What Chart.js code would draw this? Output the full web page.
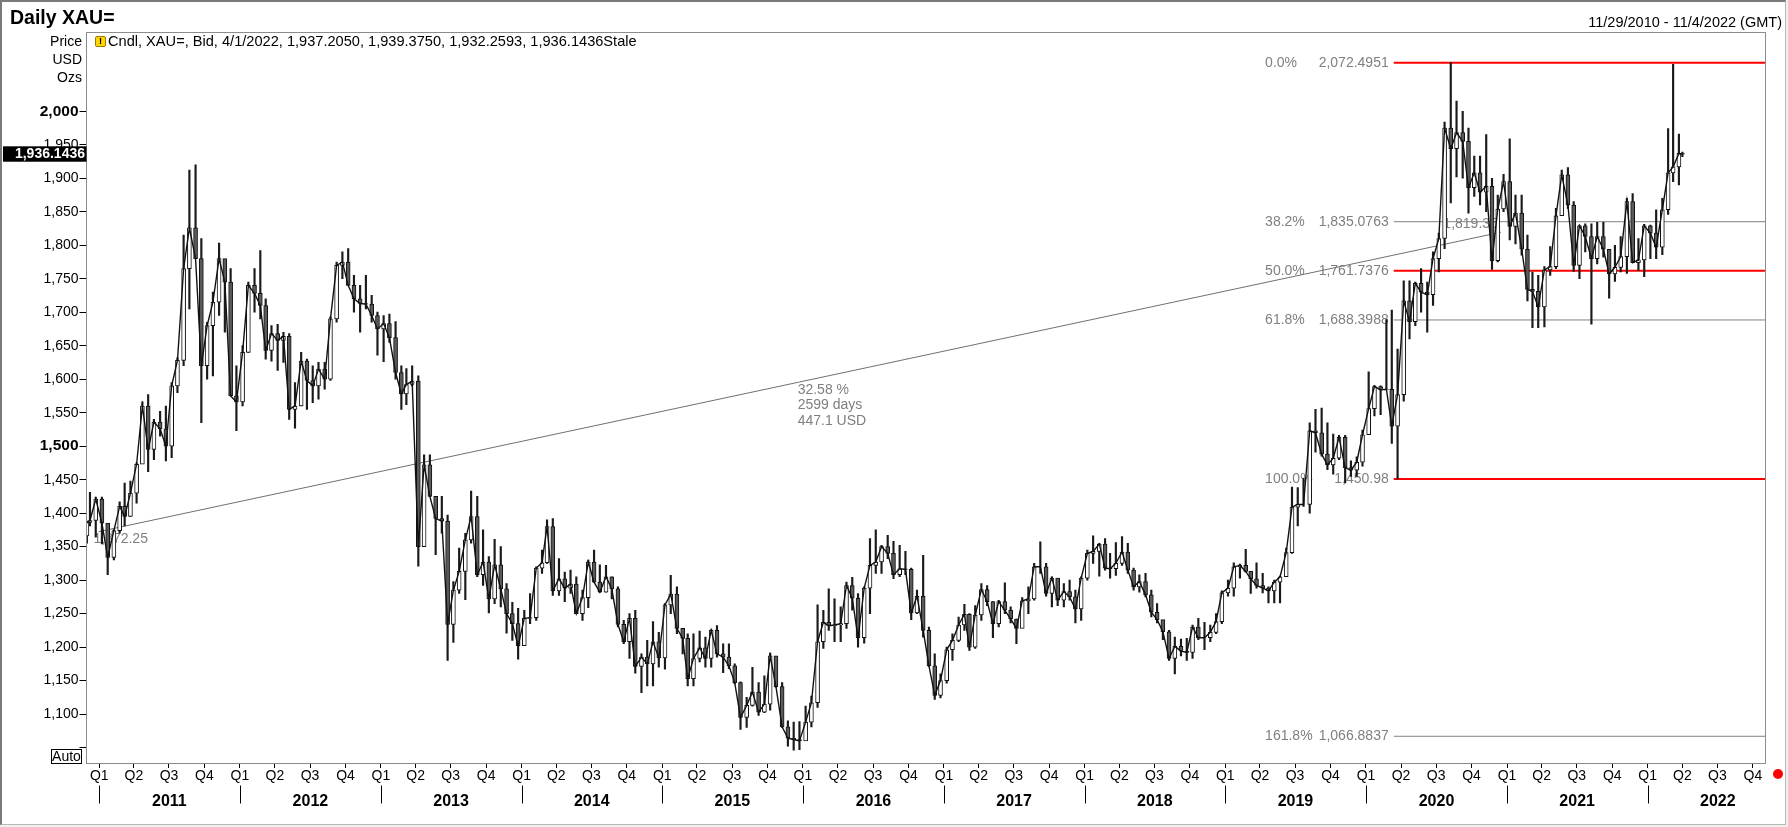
<!DOCTYPE html>
<html>
<head>
<meta charset="utf-8">
<script src="https://cdn.jsdelivr.net/npm/chart.js@4.4.1/dist/chart.umd.min.js"></script>
<style>
html, body { margin: 0; padding: 0; width: 1788px; height: 827px; overflow: hidden; background: #f0f0f0;
  font-family: "Liberation Sans", Arial, sans-serif; }
#frame { position: absolute; left: 0; top: 0; width: 1783px; height: 822px; background: #fff;
  border-left: 2px solid #7a7a7a; border-top: 2px solid #7a7a7a; border-right: 1px solid #b8b8b8; border-bottom: 1px solid #b8b8b8; }
canvas { position: absolute; left: 0; top: 0; }
.t { position: absolute; white-space: nowrap; color: #000; }
</style>
</head>
<body>
<div id="frame"></div>
<canvas id="chart" width="1788" height="827"></canvas>
<div class="t" style="left:10px;top:8px;font-size:19.5px;line-height:19.5px;font-weight:bold;">Daily XAU=</div>
<div class="t" style="right:6px;top:15px;font-size:14.5px;line-height:14.5px;">11/29/2010 - 11/4/2022 (GMT)</div>
<div class="t" style="left:0;top:32px;width:82px;text-align:right;font-size:14px;line-height:18px;">Price<br>USD<br>Ozs</div>
<div class="t" style="left:95px;top:35.5px;width:9px;height:9px;border:1px solid #9b7b00;background:#ffd400;border-radius:2px;font-size:9px;line-height:9px;font-weight:bold;text-align:center;">!</div>
<div class="t" style="left:108px;top:33.5px;font-size:14.6px;line-height:14.6px;">Cndl, XAU=, Bid, 4/1/2022, 1,937.2050, 1,939.3750, 1,932.2593, 1,936.1436Stale</div>
<div class="t" style="left:51px;top:748.5px;width:29px;height:13px;border:1px solid #000;background:#fff;font-size:14px;line-height:13px;text-align:center;">Auto</div>
<div class="t" style="left:1773px;top:769px;width:10px;height:10px;border-radius:50%;background:#f00;"></div>
<script>
// half-month candles: date (mid of period), open, low, high, close
const dates = [
  '2010-11-30','2010-12-08','2010-12-23',
  '2011-01-08','2011-01-23','2011-02-08','2011-02-23','2011-03-08','2011-03-23','2011-04-08','2011-04-23','2011-05-08','2011-05-23','2011-06-08','2011-06-23',
  '2011-07-08','2011-07-23','2011-08-08','2011-08-23','2011-09-08','2011-09-23','2011-10-08','2011-10-23','2011-11-08','2011-11-23','2011-12-08','2011-12-23',
  '2012-01-08','2012-01-23','2012-02-08','2012-02-23','2012-03-08','2012-03-23','2012-04-08','2012-04-23','2012-05-08','2012-05-23','2012-06-08','2012-06-23',
  '2012-07-08','2012-07-23','2012-08-08','2012-08-23','2012-09-08','2012-09-23','2012-10-08','2012-10-23','2012-11-08','2012-11-23','2012-12-08','2012-12-23',
  '2013-01-08','2013-01-23','2013-02-08','2013-02-23','2013-03-08','2013-03-23','2013-04-08','2013-04-23','2013-05-08','2013-05-23','2013-06-08','2013-06-23',
  '2013-07-08','2013-07-23','2013-08-08','2013-08-23','2013-09-08','2013-09-23','2013-10-08','2013-10-23','2013-11-08','2013-11-23','2013-12-08','2013-12-23',
  '2014-01-08','2014-01-23','2014-02-08','2014-02-23','2014-03-08','2014-03-23','2014-04-08','2014-04-23','2014-05-08','2014-05-23','2014-06-08','2014-06-23',
  '2014-07-08','2014-07-23','2014-08-08','2014-08-23','2014-09-08','2014-09-23','2014-10-08','2014-10-23','2014-11-08','2014-11-23','2014-12-08','2014-12-23',
  '2015-01-08','2015-01-23','2015-02-08','2015-02-23','2015-03-08','2015-03-23','2015-04-08','2015-04-23','2015-05-08','2015-05-23','2015-06-08','2015-06-23',
  '2015-07-08','2015-07-23','2015-08-08','2015-08-23','2015-09-08','2015-09-23','2015-10-08','2015-10-23','2015-11-08','2015-11-23','2015-12-08','2015-12-23',
  '2016-01-08','2016-01-23','2016-02-08','2016-02-23','2016-03-08','2016-03-23','2016-04-08','2016-04-23','2016-05-08','2016-05-23','2016-06-08','2016-06-23',
  '2016-07-08','2016-07-23','2016-08-08','2016-08-23','2016-09-08','2016-09-23','2016-10-08','2016-10-23','2016-11-08','2016-11-23','2016-12-08','2016-12-23',
  '2017-01-08','2017-01-23','2017-02-08','2017-02-23','2017-03-08','2017-03-23','2017-04-08','2017-04-23','2017-05-08','2017-05-23','2017-06-08','2017-06-23',
  '2017-07-08','2017-07-23','2017-08-08','2017-08-23','2017-09-08','2017-09-23','2017-10-08','2017-10-23','2017-11-08','2017-11-23','2017-12-08','2017-12-23',
  '2018-01-08','2018-01-23','2018-02-08','2018-02-23','2018-03-08','2018-03-23','2018-04-08','2018-04-23','2018-05-08','2018-05-23','2018-06-08','2018-06-23',
  '2018-07-08','2018-07-23','2018-08-08','2018-08-23','2018-09-08','2018-09-23','2018-10-08','2018-10-23','2018-11-08','2018-11-23','2018-12-08','2018-12-23',
  '2019-01-08','2019-01-23','2019-02-08','2019-02-23','2019-03-08','2019-03-23','2019-04-08','2019-04-23','2019-05-08','2019-05-23','2019-06-08','2019-06-23',
  '2019-07-08','2019-07-23','2019-08-08','2019-08-23','2019-09-08','2019-09-23','2019-10-08','2019-10-23','2019-11-08','2019-11-23','2019-12-08','2019-12-23',
  '2020-01-08','2020-01-23','2020-02-08','2020-02-23','2020-03-08','2020-03-23','2020-04-08','2020-04-23','2020-05-08','2020-05-23','2020-06-08','2020-06-23',
  '2020-07-08','2020-07-23','2020-08-08','2020-08-23','2020-09-08','2020-09-23','2020-10-08','2020-10-23','2020-11-08','2020-11-23','2020-12-08','2020-12-23',
  '2021-01-08','2021-01-23','2021-02-08','2021-02-23','2021-03-08','2021-03-23','2021-04-08','2021-04-23','2021-05-08','2021-05-23','2021-06-08','2021-06-23',
  '2021-07-08','2021-07-23','2021-08-08','2021-08-23','2021-09-08','2021-09-23','2021-10-08','2021-10-23','2021-11-08','2021-11-23','2021-12-08','2021-12-23',
  '2022-01-08','2022-01-23','2022-02-08','2022-02-23','2022-03-08','2022-03-23','2022-04-01'
];
const lows = [
  1355,1381,1364,
  1354,1308,1330,1370,1381,1395,1415,1480,1462,1480,1515,1478, 1483,1580,1620,1705,1780,1535,1600,1605,1695,1670,1575,1523,
  1560,1640,1700,1690,1630,1627,1613,1625,1540,1527,1560,1555, 1565,1570,1585,1598,1685,1750,1740,1700,1670,1705,1685,1636,
  1626,1655,1600,1555,1562,1590,1321,1380,1425,1338,1370,1180, 1207,1280,1271,1355,1305,1292,1251,1265,1260,1221,1210,1182,
  1202,1235,1240,1310,1325,1277,1277,1268,1280,1250,1240,1259, 1297,1282,1282,1272,1230,1205,1183,1161,1132,1142,1142,1170,
  1167,1250,1220,1190,1142,1142,1178,1170,1170,1185,1162,1168, 1145,1077,1080,1112,1098,1102,1106,1140,1080,1052,1046,1047,
  1062,1081,1110,1198,1225,1208,1208,1228,1255,1200,1206,1250, 1310,1310,1332,1302,1305,1308,1241,1250,1215,1171,1122,1124,
  1146,1180,1208,1225,1195,1198,1240,1262,1214,1230,1250,1236, 1205,1230,1250,1270,1310,1276,1260,1262,1260,1270,1236,1240,
  1300,1325,1306,1315,1303,1307,1322,1310,1285,1282,1275,1245, 1236,1211,1180,1160,1187,1180,1183,1211,1196,1208,1220,1235,
  1276,1276,1303,1312,1280,1288,1281,1266,1266,1266,1305,1340, 1381,1410,1400,1491,1485,1465,1458,1480,1445,1455,1455,1470,
  1517,1545,1547,1585,1504,1451,1567,1660,1680,1700,1670,1710, 1760,1795,1863,1902,1900,1848,1873,1860,1850,1764,1775,1850,
  1808,1802,1785,1717,1677,1677,1678,1755,1765,1845,1855,1761, 1750,1790,1682,1772,1782,1721,1746,1760,1758,1774,1762,1753,
  1780,1780,1786,1846,1895,1890,1932
];
const highs = [
  1388,1431,1424,
  1424,1378,1375,1417,1445,1448,1475,1566,1577,1540,1552,1560, 1595,1632,1815,1912,1920,1810,1685,1730,1803,1760,1765,1620,
  1650,1745,1765,1792,1720,1680,1682,1670,1668,1595,1640,1630, 1620,1625,1625,1693,1775,1790,1795,1755,1740,1755,1725,1700,
  1695,1697,1686,1620,1616,1620,1605,1487,1487,1420,1425,1397, 1298,1348,1370,1433,1425,1375,1335,1361,1350,1295,1267,1258,
  1255,1280,1320,1345,1390,1392,1332,1312,1315,1305,1285,1330, 1345,1323,1322,1305,1290,1240,1250,1255,1190,1210,1238,1222,
  1265,1307,1290,1225,1220,1220,1224,1215,1226,1232,1205,1205, 1175,1148,1125,1170,1147,1157,1191,1180,1147,1090,1088,1089,
  1112,1127,1263,1255,1287,1272,1260,1297,1304,1280,1290,1362, 1375,1352,1367,1358,1352,1343,1318,1285,1337,1230,1190,1160,
  1200,1220,1245,1264,1250,1262,1295,1292,1268,1270,1296,1260, 1242,1274,1290,1325,1357,1325,1305,1298,1295,1300,1285,1305,
  1345,1366,1355,1362,1340,1356,1365,1355,1318,1308,1310,1285, 1265,1240,1225,1215,1212,1213,1233,1243,1237,1233,1250,1284,
  1300,1326,1324,1346,1310,1326,1310,1290,1300,1306,1348,1439, 1438,1452,1535,1555,1557,1535,1518,1516,1516,1478,1484,1524,
  1611,1591,1590,1689,1703,1645,1747,1747,1745,1765,1745,1790, 1818,1984,2072.5,2015,2000,1975,1933,1933,1965,1900,1875,1906,
  1959,1875,1875,1815,1760,1755,1768,1798,1855,1912,1916,1865, 1830,1832,1832,1834,1834,1787,1800,1813,1870,1877,1810,1831,
  1830,1853,1870,1974,2070,1966,1939
];
const closes = [
  1386,1389,1421,
  1385,1334,1374,1410,1395,1430,1473,1560,1495,1536,1526,1500, 1590,1628,1765,1826,1780,1620,1680,1715,1780,1745,1575,1566,
  1640,1740,1728,1710,1643,1668,1658,1664,1555,1560,1627,1598, 1590,1615,1600,1690,1770,1775,1740,1720,1713,1712,1695,1675,
  1683,1662,1610,1578,1592,1597,1350,1472,1425,1392,1388,1234, 1285,1313,1360,1395,1308,1327,1272,1323,1287,1250,1235,1202,
  1243,1244,1318,1326,1380,1284,1302,1288,1294,1250,1274,1327, 1297,1282,1305,1287,1234,1208,1243,1171,1185,1175,1208,1184,
  1263,1279,1228,1213,1153,1183,1199,1183,1225,1190,1185,1172, 1147,1095,1113,1133,1103,1115,1187,1141,1081,1064,1062,1060,
  1088,1117,1208,1237,1232,1233,1235,1292,1273,1214,1288,1322, 1327,1350,1340,1308,1317,1316,1251,1276,1225,1172,1128,1150,
  1196,1210,1233,1249,1200,1248,1286,1268,1235,1268,1255,1242, 1228,1269,1272,1320,1320,1280,1303,1270,1283,1275,1257,1303,
  1340,1343,1354,1318,1317,1325,1342,1315,1290,1298,1278,1252, 1241,1223,1183,1201,1194,1192,1230,1214,1214,1222,1238,1281,
  1288,1320,1322,1313,1302,1292,1288,1284,1297,1305,1341,1409, 1413,1413,1523,1520,1488,1472,1482,1513,1468,1464,1476,1517,
  1556,1589,1584,1585,1530,1577,1717,1686,1743,1730,1726,1780, 1810,1975,1944,1968,1955,1886,1908,1879,1888,1777,1854,1895,
  1828,1848,1794,1734,1731,1708,1763,1768,1844,1905,1860,1770, 1829,1813,1780,1813,1794,1757,1767,1783,1865,1774,1778,1829,
  1818,1797,1853,1908,1917,1937,1936
];
const firstOpen = 1366;
const lastClose = 1936.1436;

// fibonacci retracement drawn from the March 2020 low
const fibStart = '2020-03-13';
const fibPct = [0, 38.2, 50, 61.8, 100, 161.8];
const fibVal = [2072.4951, 1835.0763, 1761.7376, 1688.3988, 1450.98, 1066.8837];
const fibRed = [true, false, true, false, true, false];

// measuring line
const trendDates = ['2010-12-30', '2020-12-16'];
const trendVals = [1372.25, 1819.35];
const trendDays = 2599;

const yTicks = [1050,1100,1150,1200,1250,1300,1350,1400,1450,1500,1550,1600,1650,1700,1750,1800,1850,1900,1950,2000];
const hiddenTick = 1050;  // sits under the "Auto" box
const yearLabels = ['2011','2012','2013','2014','2015','2016','2017','2018','2019','2020','2021','2022'];
const quarterNames = ['Q1','Q2','Q3','Q4'];

const t = s => Date.parse(s + 'T00:00:00Z');
const xMin = t('2010-11-29'), xMax = t('2022-11-04');
const yMin = 1025.5, yMax = 2118.3;
const family = '"Liberation Sans", Arial, sans-serif';

const quarterTicks = [];
yearLabels.forEach(y => ['01','04','07','10'].forEach(m => quarterTicks.push(t(y + '-' + m + '-01'))));
const yearStarts = yearLabels.map(y => t(y + '-01-01'));
const yearMids = yearLabels.map(y => t(y + '-07-02'));

// each candle opens where the previous one closed
const opens = closes.map((c, i) => i === 0 ? firstOpen : closes[i - 1]);

Chart.defaults.font.family = family;

const fibSets = fibVal.map((v, i) => ({
  type: 'line',
  data: [{x: t(fibStart), y: v}, {x: xMax, y: v}],
  borderColor: fibRed[i] ? '#ff0000' : '#808080',
  borderWidth: fibRed[i] ? 2 : 1,
  pointRadius: 0,
  order: 5
}));

const overlay = {
  id: 'overlay',
  beforeDatasetsDraw(chart) {
    const {ctx, scales: {x, y}} = chart;
    ctx.save();
    ctx.font = '14px ' + family;
    ctx.fillStyle = '#7f7f7f';
    ctx.textBaseline = 'middle';
    const x0 = x.getPixelForValue(t(fibStart));
    fibPct.forEach((p, i) => {
      const yy = y.getPixelForValue(fibVal[i]);
      ctx.textAlign = 'left';
      ctx.fillText(p.toFixed(1) + '%', x0 - 128.6, yy);
      ctx.textAlign = 'right';
      ctx.fillText(fibVal[i].toLocaleString('en-US', {maximumFractionDigits: 4}), x0 - 5, yy);
    });
    const xs = x.getPixelForValue(t(trendDates[0])), ys = y.getPixelForValue(trendVals[0]);
    const xe = x.getPixelForValue(t(trendDates[1])), ye = y.getPixelForValue(trendVals[1]);
    ctx.textAlign = 'left';
    ctx.fillText(trendVals[0].toLocaleString('en-US', {minimumFractionDigits: 2}), xs - 5, ys + 7);
    ctx.textAlign = 'right';
    ctx.fillText(trendVals[1].toLocaleString('en-US', {minimumFractionDigits: 2}), xe - 3, ye - 8);
    const diff = trendVals[1] - trendVals[0];
    const mx = (xs + xe) / 2 - 2, my = (ys + ye) / 2 + 8;
    ctx.textAlign = 'left';
    ctx.fillText((diff / trendVals[0] * 100).toFixed(2) + ' %', mx, my);
    ctx.fillText(trendDays + ' days', mx, my + 15.6);
    ctx.fillText(diff.toFixed(1) + ' USD', mx, my + 31.2);
    ctx.restore();
  },
  afterDraw(chart) {
    const {ctx, chartArea: a, scales: {x, y}} = chart;
    ctx.save();
    ctx.strokeStyle = '#8c8c8c';
    ctx.lineWidth = 1;
    ctx.strokeRect(Math.floor(a.left) + 0.5, a.top + 0.5, a.right - Math.floor(a.left) - 1, a.bottom - a.top - 1);
    // year separators below the quarter row
    ctx.strokeStyle = '#000';
    ctx.beginPath();
    yearStarts.forEach(v => {
      const px = Math.round(x.getPixelForValue(v)) + 0.5;
      ctx.moveTo(px, 785.5);
      ctx.lineTo(px, 803.5);
    });
    ctx.stroke();
    // last price tag on the value axis
    const py = y.getPixelForValue(lastClose);
    ctx.fillStyle = '#000';
    ctx.fillRect(3, py - 7.7, a.left - 3, 15.4);
    ctx.fillStyle = '#fff';
    ctx.font = 'bold 14px ' + family;
    ctx.textAlign = 'right';
    ctx.textBaseline = 'middle';
    ctx.fillText(lastClose.toLocaleString('en-US', {minimumFractionDigits: 4}), a.left - 1.5, py + 0.5);
    ctx.restore();
  }
};

new Chart(document.getElementById('chart'), {
  type: 'line',
  data: {
    datasets: [
      {
        // wicks
        type: 'bar',
        data: dates.map((d, i) => ({x: t(d), y: [lows[i], highs[i]]})),
        backgroundColor: '#1a1a1a',
        borderWidth: 0,
        barThickness: 1.5,
        grouped: false,
        order: 3
      },
      {
        // bodies: white when up, grey when down
        type: 'bar',
        data: dates.map((d, i) => ({x: t(d), y: [opens[i], closes[i]]})),
        backgroundColor: dates.map((d, i) => closes[i] >= opens[i] ? '#ffffff' : '#5a5a5a'),
        borderColor: '#111',
        borderWidth: 1,
        borderSkipped: false,
        barThickness: 4,
        grouped: false,
        order: 2
      },
      {
        type: 'line',
        data: dates.map((d, i) => ({x: t(d), y: closes[i]})),
        borderColor: '#111',
        borderWidth: 1.4,
        pointRadius: 0,
        tension: 0,
        order: 1
      },
      {
        type: 'line',
        data: trendDates.map((d, i) => ({x: t(d), y: trendVals[i]})),
        borderColor: '#707070',
        borderWidth: 1,
        pointRadius: 0,
        order: 4
      },
      ...fibSets
    ]
  },
  options: {
    responsive: false,
    animation: false,
    devicePixelRatio: 1,
    layout: {padding: {left: 0, right: 22, top: 32, bottom: 20}},
    plugins: {legend: {display: false}, tooltip: {enabled: false}},
    scales: {
      x: {
        type: 'linear', min: xMin, max: xMax, offset: false, weight: 0,
        afterBuildTicks: s => { s.ticks = quarterTicks.map(v => ({value: v})); },
        afterFit: s => { s.height = 20; },
        grid: {drawOnChartArea: false, drawTicks: true, tickLength: 4, color: '#000', offset: false},
        border: {display: false},
        ticks: {
          autoSkip: false, maxRotation: 0, padding: 0, color: '#000', font: {size: 14},
          callback: v => quarterNames[new Date(v).getUTCMonth() / 3]
        }
      },
      x2: {
        type: 'linear', position: 'bottom', min: xMin, max: xMax, offset: false, weight: 1,
        afterBuildTicks: s => { s.ticks = yearMids.map(v => ({value: v})); },
        afterFit: s => { s.height = 23; },
        grid: {display: false},
        border: {display: false},
        ticks: {
          autoSkip: false, maxRotation: 0, padding: 0, color: '#000', font: {size: 16, weight: 'bold'},
          callback: (v, i) => yearLabels[i]
        }
      },
      y: {
        type: 'linear', min: yMin, max: yMax,
        afterBuildTicks: s => { s.ticks = yTicks.map(v => ({value: v})); },
        afterFit: s => { s.width = 86.5; },
        grid: {drawOnChartArea: false, drawTicks: true, tickLength: 7, color: '#000'},
        border: {display: false},
        ticks: {
          padding: 1, color: '#000',
          font: c => (c.tick && c.tick.value % 500 === 0) ? {size: 15.5, weight: 'bold'} : {size: 14},
          callback: v => v === hiddenTick ? '' : v.toLocaleString('en-US')
        }
      }
    }
  },
  plugins: [overlay]
});
</script>
</body>
</html>
